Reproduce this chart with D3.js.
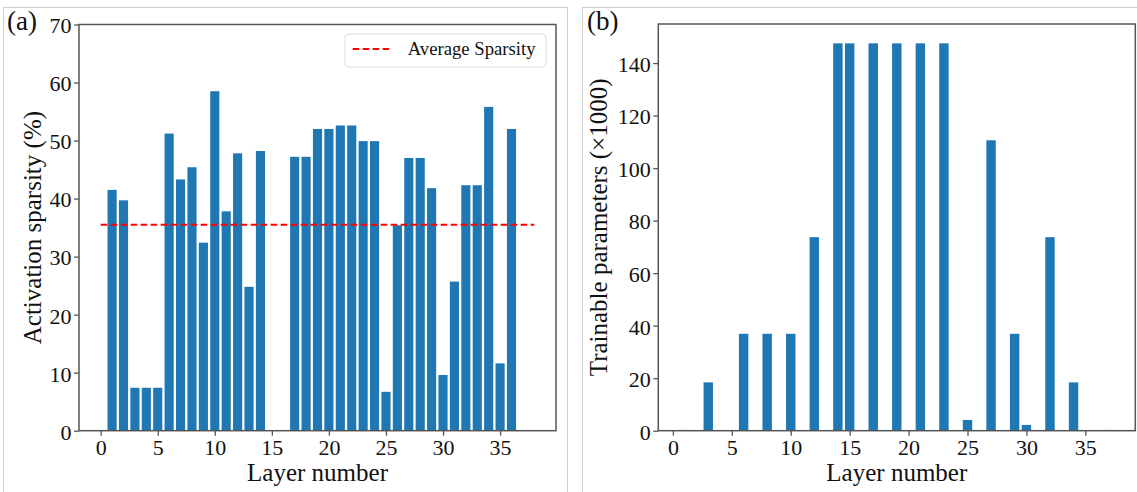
<!DOCTYPE html>
<html>
<head>
<meta charset="utf-8">
<script src="https://cdn.jsdelivr.net/npm/d3@7"></script>
<style>
  html, body { margin: 0; padding: 0; background: #fff; }
  svg { display: block; }
  svg text { font-family: "Liberation Serif", "Times New Roman", serif; fill: #111; }
</style>
</head>
<body>
<svg id="fig" width="1137" height="492" font-family="Liberation Serif"></svg>
<script>
// Panel (a): activation sparsity per layer (layers 0..36)
const sparsityLayers = d3.range(0, 37);
const sparsityValues = [
  0, 41.5, 39.7, 7.4, 7.4, 7.4, 51.2, 43.3, 45.4, 32.4,
  58.5, 37.8, 47.8, 24.8, 48.2, 0, 0, 47.2, 47.2, 52.0,
  52.0, 52.6, 52.6, 49.9, 49.9, 6.7, 35.4, 47.0, 47.0, 41.8,
  9.6, 25.7, 42.3, 42.3, 55.8, 11.6, 52.0
];
const avgLineStart = 0;
const avgLineEnd = 38;
const sparsityTicksX = [0, 5, 10, 15, 20, 25, 30, 35];
const sparsityTicksY = [0, 10, 20, 30, 40, 50, 60, 70];

// Panel (b): trainable parameters (x1000) per layer (layers 1..37)
const paramLayers = d3.range(1, 38);
const paramValues = [
  0.3, 0, 18.4, 0, 0, 36.9, 0, 36.9, 0, 36.9,
  0, 73.7, 0, 147.5, 147.5, 0, 147.5, 0, 147.5, 0,
  147.5, 0, 147.5, 0, 4.1, 0, 110.6, 0, 36.9, 2.2,
  0, 73.7, 0, 18.4, 0, 0, 0.3
];
const paramTicksX = [0, 5, 10, 15, 20, 25, 30, 35];
const paramTicksY = [0, 20, 40, 60, 80, 100, 120, 140];

const BAR = "#1f77b4";
const BAR_W = 0.8;
const SERIF = "Liberation Serif";
const svg = d3.select("#fig");

svg.append("rect").attr("width", 1137).attr("height", 492).attr("fill", "#fff");

// light frames around each sub-figure
svg.append("rect").attr("x", 3.5).attr("y", 7.5).attr("width", 564).attr("height", 500)
  .attr("fill", "none").attr("stroke", "#cfcfcf").attr("stroke-width", 1);
svg.append("rect").attr("x", 582.5).attr("y", 7.5).attr("width", 570).attr("height", 500)
  .attr("fill", "none").attr("stroke", "#cfcfcf").attr("stroke-width", 1);

// matplotlib-like x limits: data extent plus 5% margin
function paddedDomain(lo, hi) {
  const p = (hi - lo) * 0.05;
  return [lo - p, hi + p];
}

function drawPanel(cfg) {
  const g = svg.append("g");
  const x = d3.scaleLinear().domain(cfg.xDomain).range([cfg.left, cfg.right]);
  const y = d3.scaleLinear().domain(cfg.yDomain).range([cfg.bottom, cfg.top]);
  const bw = x(BAR_W) - x(0);

  g.selectAll("rect.bar").data(cfg.layers.map((l, i) => ({ l, v: cfg.values[i] })))
    .join("rect").attr("class", "bar")
    .attr("x", d => x(d.l) - bw / 2)
    .attr("width", bw)
    .attr("y", d => y(d.v))
    .attr("height", d => y(0) - y(d.v))
    .attr("fill", BAR);

  const xAxis = d3.axisBottom(x).tickValues(cfg.xTicks).tickFormat(d3.format("d"))
    .tickSize(5).tickPadding(3.5);
  const yAxis = d3.axisLeft(y).tickValues(cfg.yTicks).tickFormat(d3.format("d"))
    .tickSize(5).tickPadding(2.5);

  const gx = g.append("g").attr("transform", `translate(0,${cfg.bottom})`).call(xAxis);
  const gy = g.append("g").attr("transform", `translate(${cfg.left},0)`).call(yAxis);
  [gx, gy].forEach(a => {
    a.attr("font-family", SERIF).attr("font-size", 22);
    a.select(".domain").remove();
    a.selectAll(".tick line").attr("stroke", "#555").attr("stroke-width", 1.3);
    a.selectAll(".tick text").attr("font-family", SERIF).attr("font-size", 22).attr("fill", "#111");
  });
  gy.selectAll(".tick text").attr("dy", "0.38em");

  // spines
  g.append("rect").attr("x", cfg.left).attr("y", cfg.top)
    .attr("width", cfg.right - cfg.left).attr("height", cfg.bottom - cfg.top)
    .attr("fill", "none").attr("stroke", "#555").attr("stroke-width", 1.5);

  g.append("text").attr("x", (cfg.left + cfg.right) / 2).attr("y", 481)
    .attr("text-anchor", "middle").attr("font-size", 25).text("Layer number");
  g.append("text")
    .attr("transform", `translate(${cfg.ylabelX},${(cfg.top + cfg.bottom) / 2}) rotate(-90)`)
    .attr("text-anchor", "middle").attr("font-size", 25).text(cfg.ylabel);
  g.append("text").attr("x", cfg.tagX).attr("y", 30).attr("font-size", 27).text(cfg.tag);

  return { g, x, y };
}

// ---- panel (a)
const pa = drawPanel({
  layers: sparsityLayers, values: sparsityValues,
  xDomain: paddedDomain(avgLineStart, avgLineEnd), yDomain: [0, 70],
  left: 79, right: 556, top: 24.5, bottom: 430.7,
  xTicks: sparsityTicksX, yTicks: sparsityTicksY,
  ylabel: "Activation sparsity (%)", ylabelX: 40.5, tag: "(a)", tagX: 7
});

const avgSparsity = d3.mean(sparsityValues);
pa.g.append("line")
  .attr("x1", pa.x(avgLineStart)).attr("x2", pa.x(avgLineEnd))
  .attr("y1", pa.y(avgSparsity)).attr("y2", pa.y(avgSparsity))
  .attr("stroke", "#ff0000").attr("stroke-width", 2).attr("stroke-dasharray", "6.5,3.5");

// legend
const lg = pa.g.append("g");
lg.append("rect").attr("x", 345).attr("y", 34).attr("width", 201).attr("height", 33)
  .attr("rx", 4).attr("fill", "#fff").attr("fill-opacity", 0.85)
  .attr("stroke", "#dcdcdc").attr("stroke-width", 1);
lg.append("line").attr("x1", 352.7).attr("x2", 391.7).attr("y1", 49).attr("y2", 49)
  .attr("stroke", "#ff0000").attr("stroke-width", 2).attr("stroke-dasharray", "6.5,3.5");
lg.append("text").attr("x", 407.7).attr("y", 54.5).attr("font-size", 18.7).text("Average Sparsity");

// ---- panel (b)
const pLo = d3.min(paramLayers) - BAR_W / 2, pHi = d3.max(paramLayers) + BAR_W / 2;
drawPanel({
  layers: paramLayers, values: paramValues,
  xDomain: paddedDomain(pLo, pHi), yDomain: [0, d3.max(paramValues) * 1.05],
  left: 658.3, right: 1135.3, top: 24, bottom: 430.7,
  xTicks: paramTicksX, yTicks: paramTicksY,
  ylabel: "Trainable parameters (×1000)", ylabelX: 606.5, tag: "(b)", tagX: 587
});
</script>
</body>
</html>
